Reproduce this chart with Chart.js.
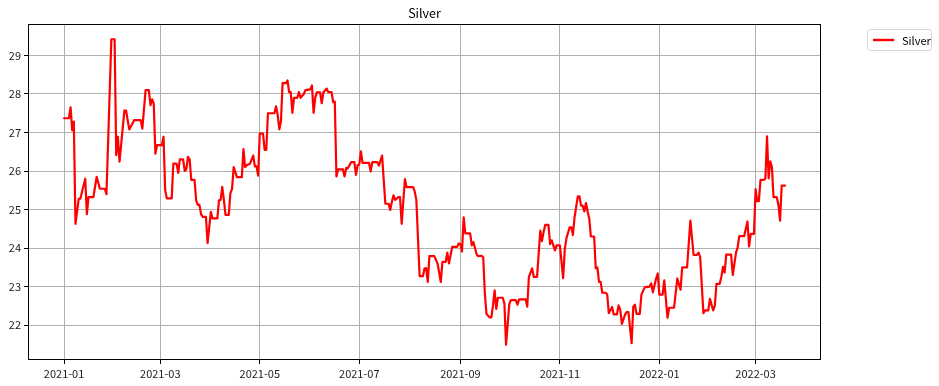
<!DOCTYPE html>
<html>
<head>
<meta charset="utf-8">
<script src="https://cdn.jsdelivr.net/npm/chart.js@4.4.1/dist/chart.umd.min.js"></script>
<style>
  html, body { margin: 0; padding: 0; background: #fff; }
  #wrap { width: 939px; height: 386px; }
</style>
</head>
<body>
<div id="wrap"><canvas id="chart" width="939" height="386"></canvas></div>
<script>
// ==============================
// DATA
// ==============================
const chartTitle = "Silver";
const seriesName = "Silver";

const dates = [
  "2021-01-01","2021-01-04","2021-01-05","2021-01-06","2021-01-07","2021-01-08","2021-01-10","2021-01-11",
  "2021-01-14","2021-01-15","2021-01-16","2021-01-19","2021-01-21","2021-01-23","2021-01-26","2021-01-27",
  "2021-01-30","2021-02-01","2021-02-02","2021-02-03","2021-02-04","2021-02-07","2021-02-08","2021-02-10",
  "2021-02-13","2021-02-17","2021-02-18","2021-02-20","2021-02-22","2021-02-23","2021-02-24","2021-02-25",
  "2021-02-26","2021-02-27","2021-03-02","2021-03-03","2021-03-04","2021-03-05","2021-03-08","2021-03-09",
  "2021-03-11","2021-03-12","2021-03-13","2021-03-15","2021-03-16","2021-03-17","2021-03-18","2021-03-19",
  "2021-03-20","2021-03-22","2021-03-23","2021-03-24","2021-03-25","2021-03-26","2021-03-27","2021-03-29",
  "2021-03-30","2021-04-01","2021-04-02","2021-04-05","2021-04-06","2021-04-07","2021-04-08","2021-04-09",
  "2021-04-10","2021-04-12","2021-04-13","2021-04-14","2021-04-15","2021-04-17","2021-04-20","2021-04-21",
  "2021-04-22","2021-04-23","2021-04-25","2021-04-27","2021-04-28","2021-04-29","2021-04-30","2021-05-01",
  "2021-05-03","2021-05-04","2021-05-05","2021-05-06","2021-05-10","2021-05-11","2021-05-12","2021-05-13",
  "2021-05-14","2021-05-15","2021-05-17","2021-05-18","2021-05-19","2021-05-20","2021-05-21","2021-05-22",
  "2021-05-24","2021-05-25","2021-05-26","2021-05-28","2021-05-29","2021-06-01","2021-06-02","2021-06-03",
  "2021-06-04","2021-06-05","2021-06-07","2021-06-08","2021-06-09","2021-06-11","2021-06-12","2021-06-14",
  "2021-06-15","2021-06-16","2021-06-17","2021-06-18","2021-06-21","2021-06-22","2021-06-23","2021-06-24",
  "2021-06-26","2021-06-28","2021-06-29","2021-06-30","2021-07-01","2021-07-02","2021-07-03","2021-07-07",
  "2021-07-08","2021-07-09","2021-07-12","2021-07-13","2021-07-15","2021-07-16","2021-07-17","2021-07-19",
  "2021-07-20","2021-07-21","2021-07-22","2021-07-23","2021-07-25","2021-07-26","2021-07-27","2021-07-29",
  "2021-07-30","2021-08-03","2021-08-04","2021-08-05","2021-08-07","2021-08-09","2021-08-10","2021-08-11",
  "2021-08-12","2021-08-13","2021-08-16","2021-08-18","2021-08-20","2021-08-21","2021-08-23","2021-08-24",
  "2021-08-25","2021-08-27","2021-08-30","2021-08-31","2021-09-01","2021-09-02","2021-09-03","2021-09-04",
  "2021-09-07","2021-09-08","2021-09-09","2021-09-11","2021-09-12","2021-09-14","2021-09-15","2021-09-16",
  "2021-09-17","2021-09-19","2021-09-20","2021-09-21","2021-09-22","2021-09-23","2021-09-24","2021-09-27",
  "2021-09-28","2021-09-29","2021-10-01","2021-10-02","2021-10-05","2021-10-06","2021-10-07","2021-10-11",
  "2021-10-12","2021-10-13","2021-10-15","2021-10-16","2021-10-18","2021-10-20","2021-10-21","2021-10-22",
  "2021-10-23","2021-10-25","2021-10-26","2021-10-27","2021-10-28","2021-10-29","2021-10-30","2021-11-01",
  "2021-11-03","2021-11-04","2021-11-05","2021-11-07","2021-11-08","2021-11-09","2021-11-10","2021-11-12",
  "2021-11-13","2021-11-14","2021-11-15","2021-11-16","2021-11-17","2021-11-18","2021-11-19","2021-11-20",
  "2021-11-22","2021-11-23","2021-11-24","2021-11-25","2021-11-26","2021-11-27","2021-11-29","2021-11-30",
  "2021-12-01","2021-12-03","2021-12-04","2021-12-06","2021-12-07","2021-12-08","2021-12-09","2021-12-11",
  "2021-12-12","2021-12-13","2021-12-15","2021-12-16","2021-12-17","2021-12-18","2021-12-20","2021-12-21",
  "2021-12-23","2021-12-26","2021-12-27","2021-12-28","2021-12-30","2021-12-31","2022-01-01","2022-01-03",
  "2022-01-04","2022-01-06","2022-01-07","2022-01-10","2022-01-12","2022-01-14","2022-01-15","2022-01-18",
  "2022-01-20","2022-01-22","2022-01-24","2022-01-25","2022-01-26","2022-01-28","2022-01-29","2022-01-31",
  "2022-02-01","2022-02-03","2022-02-04","2022-02-05","2022-02-07","2022-02-08","2022-02-09","2022-02-10",
  "2022-02-11","2022-02-14","2022-02-15","2022-02-17","2022-02-18","2022-02-19","2022-02-22","2022-02-24",
  "2022-02-25","2022-02-26","2022-02-28","2022-03-01","2022-03-02","2022-03-03","2022-03-04","2022-03-06",
  "2022-03-07","2022-03-08","2022-03-09","2022-03-10","2022-03-11","2022-03-12","2022-03-14","2022-03-15",
  "2022-03-16","2022-03-17","2022-03-19"
];

const silver = [
  27.37,27.37,27.65,27.06,27.28,24.63,25.28,25.28,
  25.80,24.88,25.32,25.32,25.85,25.54,25.54,25.40,
  29.42,29.42,26.41,26.89,26.24,27.57,27.57,27.08,
  27.32,27.32,27.10,28.10,28.10,27.71,27.86,27.75,
  26.45,26.67,26.67,26.89,25.50,25.29,25.29,26.19,
  26.19,25.95,26.30,26.30,26.00,26.05,26.37,26.30,
  25.77,25.77,25.24,25.12,25.12,24.88,24.81,24.81,
  24.13,24.94,24.77,24.77,25.24,25.25,25.59,25.25,
  24.86,24.86,25.43,25.53,26.10,25.84,25.84,26.57,
  26.10,26.15,26.19,26.40,26.12,26.12,25.88,26.97,
  26.97,26.55,26.55,27.50,27.50,27.68,27.45,27.08,
  27.30,28.28,28.28,28.35,28.05,28.05,27.51,27.90,
  27.90,28.05,27.90,28.00,28.10,28.12,28.22,27.51,
  27.90,28.04,28.04,27.76,28.04,28.14,28.05,28.05,
  27.79,27.80,25.86,26.04,26.04,25.86,26.08,26.07,
  26.23,26.23,25.90,26.15,26.17,26.51,26.21,26.21,
  25.99,26.23,26.23,26.14,26.40,25.77,25.15,25.15,
  24.99,25.20,25.37,25.25,25.32,25.32,24.63,25.79,
  25.58,25.58,25.47,25.25,23.27,23.27,23.47,23.48,
  23.12,23.79,23.79,23.60,23.12,23.64,23.64,23.88,
  23.60,24.03,24.03,24.12,24.10,23.91,24.80,24.38,
  24.38,24.07,24.15,23.83,23.79,23.80,23.76,22.82,
  22.29,22.20,22.20,22.51,22.90,22.42,22.71,22.71,
  22.55,21.49,22.55,22.65,22.65,22.53,22.67,22.67,
  22.48,23.25,23.47,23.25,23.25,24.45,24.18,24.41,
  24.60,24.60,24.10,24.20,24.07,23.94,24.07,24.07,
  23.22,23.96,24.25,24.54,24.54,24.34,24.80,25.34,
  25.34,25.10,25.10,24.95,25.17,24.95,24.77,24.30,
  24.30,23.47,23.50,23.12,23.12,22.84,22.84,22.80,
  22.31,22.47,22.28,22.28,22.51,22.40,22.03,22.28,
  22.34,22.34,21.53,22.48,22.53,22.29,22.29,22.79,
  22.98,23.00,23.08,22.85,23.21,23.34,22.79,22.79,
  23.16,22.19,22.45,22.45,23.21,22.92,23.50,23.50,
  24.71,23.82,23.82,23.88,23.77,22.31,22.38,22.38,
  22.68,22.38,22.50,23.07,23.07,23.25,23.51,23.36,
  23.83,23.83,23.30,23.88,24.02,24.31,24.31,24.69,
  24.04,24.37,24.37,25.53,25.21,25.22,25.77,25.77,
  25.80,26.90,25.81,26.25,26.10,25.32,25.32,25.12,
  24.71,25.62,25.62
];

const xTicks = ["2021-01-01","2021-03-01","2021-05-01","2021-07-01","2021-09-01","2021-11-01","2022-01-01","2022-03-01"];
const yTicks = [22, 23, 24, 25, 26, 27, 28, 29];

// ==============================
// HELPERS
// ==============================
const FONT = '"Noto Sans CJK SC", "Noto Sans", sans-serif';
const toMs = s => Date.parse(s + "T00:00:00Z");
const points = dates.map((d, i) => ({ x: toMs(d), y: silver[i] }));

// matplotlib style 5% margins
const xFirst = toMs(dates[0]);
const xLast = toMs(dates[dates.length - 1]);
const xPad = (xLast - xFirst) * 0.05;
const yMinData = Math.min(...silver);
const yMaxData = Math.max(...silver);
const yPad = (yMaxData - yMinData) * 0.05;

// ==============================
// FRAME / TITLE / LEGEND
// ==============================
const decor = {
  id: "decor",
  afterDraw(chart) {
    const { ctx, chartArea: a } = chart;
    ctx.save();

    // spines
    ctx.strokeStyle = "#000";
    ctx.lineWidth = 1;
    ctx.strokeRect(a.left + 0.5, a.top + 0.5, a.right - a.left - 1, a.bottom - a.top - 1);

    // title
    ctx.fillStyle = "#000";
    ctx.font = "12.5px " + FONT;
    ctx.textAlign = "center";
    ctx.textBaseline = "bottom";
    ctx.fillText(chartTitle, (a.left + a.right) / 2, a.top - 5);

    // legend
    const lx = 867, ly = 29, lw = 64, lh = 21;
    ctx.fillStyle = "#fff";
    ctx.strokeStyle = "#d6d6d6";
    ctx.lineWidth = 1;
    ctx.beginPath();
    ctx.roundRect(lx + 0.5, ly + 0.5, lw, lh, 3);
    ctx.fill();
    ctx.stroke();

    ctx.strokeStyle = "#ff0000";
    ctx.lineWidth = 2.4;
    ctx.beginPath();
    ctx.moveTo(lx + 6, ly + lh / 2 + 0.5);
    ctx.lineTo(lx + 27, ly + lh / 2 + 0.5);
    ctx.stroke();

    ctx.fillStyle = "#000";
    ctx.font = "11px " + FONT;
    ctx.textAlign = "left";
    ctx.textBaseline = "middle";
    ctx.fillText(seriesName, lx + 35, ly + lh / 2 + 1);

    ctx.restore();
  }
};

// ==============================
// CHART
// ==============================
const ctx = document.getElementById("chart").getContext("2d");

new Chart(ctx, {
  type: "line",
  data: {
    datasets: [{
      label: seriesName,
      data: points,
      borderColor: "#ff0000",
      borderWidth: 2.2,
      borderJoinStyle: "round",
      borderCapStyle: "round",
      pointRadius: 0,
      tension: 0,
      fill: false
    }]
  },
  options: {
    responsive: false,
    animation: false,
    devicePixelRatio: 1,
    layout: { padding: { left: 0, top: 24, right: 118, bottom: 0 } },
    plugins: {
      legend: { display: false },
      title: { display: false },
      tooltip: { enabled: false }
    },
    scales: {
      x: {
        type: "linear",
        min: xFirst - xPad,
        max: xLast + xPad,
        afterBuildTicks: s => { s.ticks = xTicks.map(t => ({ value: toMs(t) })); },
        afterFit: s => { s.height = 26; },
        grid: { color: "#b0b0b0", lineWidth: 1, tickLength: 4, tickColor: "#000" },
        border: { display: false },
        ticks: {
          color: "#222",
          font: { family: FONT, size: 11 },
          padding: 3,
          maxRotation: 0,
          autoSkip: false,
          callback: v => new Date(v).toISOString().slice(0, 7)
        }
      },
      y: {
        type: "linear",
        min: yMinData - yPad,
        max: yMaxData + yPad,
        afterBuildTicks: s => { s.ticks = yTicks.map(v => ({ value: v })); },
        afterFit: s => { s.width = 28; },
        grid: { color: "#b0b0b0", lineWidth: 1, tickLength: 4, tickColor: "#000" },
        border: { display: false },
        ticks: {
          color: "#222",
          font: { family: FONT, size: 11 },
          padding: 3,
          autoSkip: false,
          callback: v => String(v)
        }
      }
    }
  },
  plugins: [decor]
});
</script>
</body>
</html>
